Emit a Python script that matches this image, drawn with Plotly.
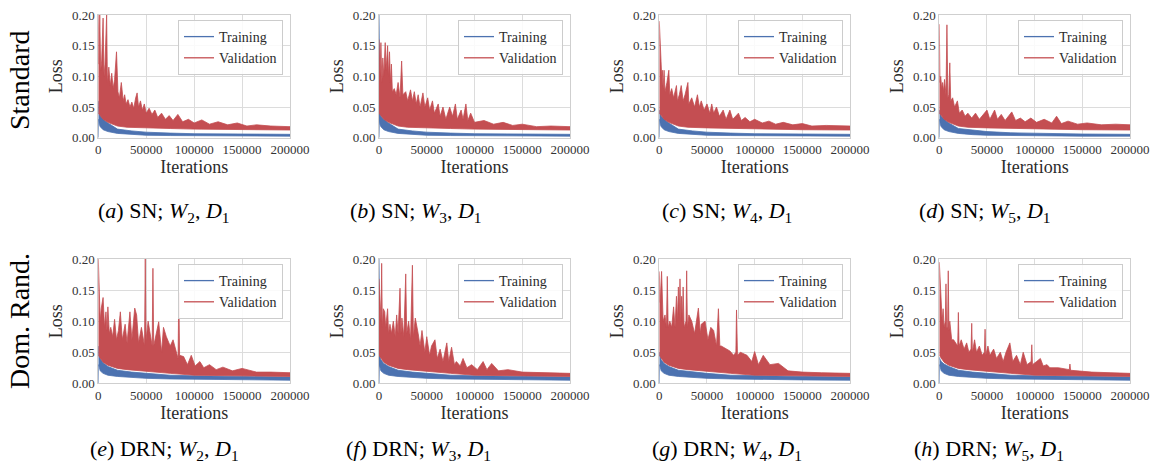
import plotly.graph_objects as go

# ---------------- data (x values in thousands of iterations) ----------------
X_TICKS = [0, 50000, 100000, 150000, 200000]
X_TICK_TEXT = ["0", "50000", "100000", "150000", "200000"]
Y_TICKS = [0.0, 0.05, 0.10, 0.15, 0.20]
Y_TICK_TEXT = ["0.00", "0.05", "0.10", "0.15", "0.20"]

PANEL_IDS = ["a", "b", "c", "d", "e", "f", "g", "h"]
PANEL_METHOD = ["SN", "SN", "SN", "SN", "DRN", "DRN", "DRN", "DRN"]
PANEL_W = [2, 3, 4, 5, 2, 3, 4, 5]
ROW_LABELS = ["Standard", "Dom. Rand."]
SERIES_NAMES = ["Training", "Validation"]

# training band (upper / lower edge)
TRAIN_X_K = [0, 0.3, 1, 2, 5, 10, 20, 35, 50, 75, 100, 150, 200]
A_TRAIN_HI = [0.06, 0.05, 0.042, 0.036, 0.03, 0.024, 0.014, 0.011, 0.009, 0.0075, 0.0065, 0.006, 0.0055]
B_TRAIN_HI = [0.20, 0.06, 0.04, 0.035, 0.03, 0.024, 0.014, 0.011, 0.009, 0.0075, 0.0065, 0.006, 0.0055]
C_TRAIN_HI = [0.045, 0.042, 0.04, 0.035, 0.03, 0.024, 0.014, 0.011, 0.009, 0.0075, 0.0065, 0.006, 0.0055]
D_TRAIN_HI = [0.045, 0.043, 0.04, 0.035, 0.03, 0.024, 0.015, 0.012, 0.01, 0.008, 0.007, 0.006, 0.0055]
ROW1_TRAIN_LO = [0.0, 0.03, 0.022, 0.018, 0.013, 0.010, 0.007, 0.005, 0.004, 0.0035, 0.003, 0.0025, 0.0025]
E_TRAIN_HI = [0.06, 0.05, 0.045, 0.04, 0.033, 0.027, 0.021, 0.018, 0.016, 0.013, 0.012, 0.011, 0.010]
F_TRAIN_HI = [0.20, 0.06, 0.042, 0.038, 0.032, 0.027, 0.021, 0.018, 0.016, 0.013, 0.012, 0.011, 0.010]
G_TRAIN_HI = [0.05, 0.048, 0.044, 0.038, 0.032, 0.027, 0.021, 0.018, 0.016, 0.013, 0.012, 0.011, 0.010]
H_TRAIN_HI = [0.042, 0.04, 0.038, 0.035, 0.031, 0.027, 0.021, 0.018, 0.016, 0.013, 0.012, 0.011, 0.010]
ROW2_TRAIN_LO = [0.0, 0.03, 0.025, 0.02, 0.016, 0.013, 0.011, 0.009, 0.008, 0.007, 0.006, 0.0055, 0.005]

# validation band: lower edge
VAL_LO_X_K = [0, 2, 5, 10, 20, 30, 50, 75, 100, 150, 200]
ROW1_VAL_LO = [0.04, 0.036, 0.03, 0.025, 0.019, 0.017, 0.016, 0.015, 0.014, 0.013, 0.0125]
ROW2_VAL_LO = [0.045, 0.04, 0.034, 0.029, 0.024, 0.022, 0.019, 0.016, 0.013, 0.0115, 0.011]

# validation band: upper envelope (spikes)
A_VAL_X_K = [0, 0.8, 1.5, 2.5, 3.5, 5, 6, 7, 8.7, 9.5, 11, 12.5, 14, 15.5, 17, 19, 20.5, 22, 24, 26,
             27.5, 29, 31, 33, 35, 37, 39, 40.5, 42, 44, 46, 48, 50, 53, 56, 59, 62, 66, 70, 74,
             78, 83, 88, 94, 100, 108, 116, 125, 135, 145, 155, 165, 180, 200]
A_VAL_HI = [0.20, 0.12, 0.20, 0.11, 0.125, 0.195, 0.10, 0.12, 0.20, 0.09, 0.115, 0.085, 0.105, 0.08, 0.095, 0.14, 0.075, 0.065, 0.09, 0.06,
            0.07, 0.055, 0.062, 0.05, 0.058, 0.048, 0.065, 0.073, 0.05, 0.06, 0.045, 0.055, 0.04, 0.048, 0.038, 0.045, 0.033, 0.04, 0.03, 0.036,
            0.028, 0.038, 0.026, 0.03, 0.024, 0.029, 0.022, 0.026, 0.021, 0.024, 0.019, 0.021, 0.019, 0.018]

B_VAL_X_K = [0, 1, 2, 3, 4, 5, 6.5, 7.5, 9, 10, 11, 12, 13, 14, 16, 18, 20, 22, 23.7, 25,
             28, 30, 33, 35, 37, 39, 41, 43, 46, 48, 51, 53, 56, 58, 62, 64, 67, 70, 74, 77,
             80, 82, 86, 88, 91, 93, 96, 100, 110, 120, 130, 140, 150, 165, 180, 200]
B_VAL_HI = [0.16, 0.10, 0.155, 0.09, 0.13, 0.10, 0.155, 0.11, 0.15, 0.10, 0.14, 0.09, 0.12, 0.075, 0.08, 0.07, 0.09, 0.065, 0.125, 0.07,
            0.075, 0.06, 0.078, 0.06, 0.075, 0.055, 0.07, 0.05, 0.073, 0.05, 0.065, 0.045, 0.06, 0.04, 0.055, 0.035, 0.05, 0.03, 0.05, 0.035,
            0.055, 0.03, 0.045, 0.03, 0.055, 0.028, 0.04, 0.025, 0.028, 0.022, 0.025, 0.02, 0.022, 0.018, 0.019, 0.018]

C_VAL_X_K = [0, 1, 2.5, 3.2, 4, 5, 6, 8, 10, 11, 13, 15, 18, 19, 21, 23, 25, 27, 30, 31,
             34, 37, 40, 42, 44, 47, 50, 53, 55, 57, 60, 63, 67, 70, 74, 77, 83, 86, 90, 95,
             100, 108, 115, 122, 130, 140, 150, 160, 175, 200]
C_VAL_HI = [0.19, 0.162, 0.10, 0.11, 0.08, 0.11, 0.075, 0.09, 0.11, 0.07, 0.08, 0.065, 0.085, 0.06, 0.07, 0.085, 0.06, 0.07, 0.09, 0.055,
            0.065, 0.05, 0.07, 0.05, 0.06, 0.045, 0.055, 0.04, 0.055, 0.04, 0.05, 0.035, 0.045, 0.03, 0.045, 0.03, 0.04, 0.028, 0.033, 0.026,
            0.03, 0.024, 0.027, 0.022, 0.025, 0.021, 0.023, 0.019, 0.02, 0.019]

D_VAL_X_K = [0, 0.7, 1.5, 2.5, 3.5, 4.5, 5.5, 7, 8, 9, 10, 11, 12, 14, 16, 19, 21, 24, 27, 30,
             34, 38, 42, 46, 50, 53, 56, 58, 61, 65, 69, 73, 76, 80, 85, 90, 96, 102, 110, 118,
             123, 128, 135, 145, 155, 170, 185, 200]
D_VAL_HI = [0.185, 0.09, 0.10, 0.08, 0.09, 0.075, 0.095, 0.07, 0.184, 0.065, 0.07, 0.122, 0.06, 0.065, 0.05, 0.06, 0.04, 0.045, 0.035, 0.04,
            0.032, 0.04, 0.03, 0.038, 0.045, 0.03, 0.038, 0.045, 0.03, 0.038, 0.028, 0.035, 0.042, 0.028, 0.032, 0.026, 0.032, 0.025, 0.03, 0.024,
            0.035, 0.023, 0.027, 0.022, 0.024, 0.021, 0.022, 0.021]

E_VAL_X_K = [0, 1, 2, 3, 5, 6.5, 8, 9, 10, 11.5, 13, 15, 17, 19, 21, 23, 25, 28, 30, 33,
             35, 38, 40, 42, 45, 48.2, 49, 49.8, 52, 56.2, 57, 57.8, 60, 63, 66, 68, 71, 75, 78, 83.2,
             84, 84.8, 89, 93, 97, 101, 106, 110, 116, 123, 130, 140, 150, 165, 180, 200]
E_VAL_HI = [0.20, 0.158, 0.10, 0.12, 0.138, 0.09, 0.115, 0.085, 0.123, 0.08, 0.09, 0.075, 0.103, 0.07, 0.085, 0.115, 0.07, 0.095, 0.065, 0.115,
            0.07, 0.121, 0.11, 0.065, 0.09, 0.06, 0.20, 0.07, 0.10, 0.06, 0.185, 0.06, 0.075, 0.099, 0.05, 0.09, 0.075, 0.06, 0.07, 0.04,
            0.146, 0.045, 0.043, 0.03, 0.045, 0.028, 0.035, 0.025, 0.03, 0.022, 0.026, 0.02, 0.024, 0.018, 0.018, 0.017]

F_VAL_X_K = [0, 1, 2.2, 2.8, 3.5, 4.5, 6, 7, 9, 10, 11.5, 13, 15, 17, 18.5, 20, 22, 23, 24, 26,
             28, 29, 31, 33, 35, 36, 38, 41, 43, 45, 48, 50, 53, 55, 58.6, 61, 64, 67, 71, 73,
             76, 79, 81, 85, 88, 92, 97, 103, 109, 113, 118, 125, 135, 150, 170, 200]
F_VAL_HI = [0.168, 0.12, 0.10, 0.193, 0.09, 0.12, 0.115, 0.09, 0.12, 0.08, 0.095, 0.08, 0.10, 0.075, 0.11, 0.08, 0.153, 0.08, 0.105, 0.075,
            0.176, 0.08, 0.10, 0.07, 0.19, 0.075, 0.105, 0.08, 0.06, 0.085, 0.05, 0.075, 0.045, 0.06, 0.07, 0.04, 0.055, 0.035, 0.065, 0.035,
            0.058, 0.03, 0.035, 0.028, 0.04, 0.025, 0.03, 0.022, 0.035, 0.022, 0.032, 0.02, 0.022, 0.018, 0.017, 0.016]

G_VAL_X_K = [0, 1, 2.4, 3.2, 4, 6, 7.5, 8.4, 9.3, 11, 13, 15, 16.5, 18, 19, 20, 21, 21.7, 22.5, 23.4,
             24.2, 25, 26, 28, 28.7, 29.5, 31, 34, 37, 41, 43, 44, 48, 51, 54, 57, 60, 62, 63.5, 65,
             70, 74, 78, 80.3, 81, 82, 85, 92, 97, 100, 104, 109, 116, 125, 135, 150, 170, 200]
G_VAL_HI = [0.18, 0.13, 0.18, 0.11, 0.10, 0.11, 0.09, 0.172, 0.09, 0.10, 0.09, 0.123, 0.09, 0.14, 0.10, 0.155, 0.11, 0.168, 0.10, 0.14,
            0.10, 0.155, 0.09, 0.10, 0.181, 0.09, 0.11, 0.10, 0.08, 0.121, 0.08, 0.095, 0.10, 0.07, 0.09, 0.085, 0.06, 0.12, 0.06, 0.06,
            0.055, 0.052, 0.045, 0.05, 0.118, 0.045, 0.05, 0.045, 0.035, 0.051, 0.03, 0.045, 0.03, 0.032, 0.02, 0.018, 0.017, 0.016]

H_VAL_X_K = [0, 1, 2, 3, 4, 5, 6.3, 7, 7.7, 8.7, 9.4, 10.1, 11, 13, 15, 17, 19.3, 20, 20.7, 23,
             26, 28.7, 31, 33.3, 34, 34.7, 37, 39, 42, 45, 47.3, 48, 48.7, 51, 53, 57, 60, 64, 67, 70,
             74, 77, 81, 85, 88, 92, 96.3, 97, 97.7, 102, 106, 109, 113, 116, 125, 136.3, 137, 137.7, 145, 160,
             180, 200]
H_VAL_HI = [0.195, 0.16, 0.12, 0.10, 0.12, 0.09, 0.10, 0.16, 0.09, 0.09, 0.181, 0.085, 0.10, 0.07, 0.07, 0.065, 0.06, 0.114, 0.06, 0.07,
            0.055, 0.065, 0.05, 0.055, 0.0965, 0.05, 0.07, 0.05, 0.06, 0.045, 0.05, 0.087, 0.045, 0.06, 0.045, 0.055, 0.04, 0.05, 0.035, 0.05,
            0.065, 0.035, 0.045, 0.03, 0.05, 0.03, 0.035, 0.062, 0.03, 0.035, 0.04, 0.028, 0.03, 0.025, 0.025, 0.022, 0.031, 0.021, 0.02, 0.018,
            0.017, 0.016]

TRAIN_HI = [A_TRAIN_HI, B_TRAIN_HI, C_TRAIN_HI, D_TRAIN_HI, E_TRAIN_HI, F_TRAIN_HI, G_TRAIN_HI, H_TRAIN_HI]
TRAIN_LO = [ROW1_TRAIN_LO] * 4 + [ROW2_TRAIN_LO] * 4
VAL_X = [A_VAL_X_K, B_VAL_X_K, C_VAL_X_K, D_VAL_X_K, E_VAL_X_K, F_VAL_X_K, G_VAL_X_K, H_VAL_X_K]
VAL_HI = [A_VAL_HI, B_VAL_HI, C_VAL_HI, D_VAL_HI, E_VAL_HI, F_VAL_HI, G_VAL_HI, H_VAL_HI]
VAL_LO = [ROW1_VAL_LO] * 4 + [ROW2_VAL_LO] * 4

# ---------------- styling / layout ----------------
W, H = 1154, 470
BLUE = "#4C72B0"
RED = "#C44E52"
FONT = "Liberation Serif"
TXT = "#2b2b2b"
COL_L = [98.3, 379, 659.3, 939.3]
COL_R = [290, 570, 850, 1130]
ROW_TB = [(15, 137.7), (259, 383.3)]
CAPTION_X = [164, 416, 727, 985, 164, 418, 727, 989]
CAPTION_Y = [212, 212, 212, 212, 450, 450, 450, 450]
ROW_LABEL_Y = [80, 321]


def k2it(xs):
    return [v * 1000 for v in xs]


fig = go.Figure()
layout = dict(
    width=W, height=H, margin=dict(l=0, r=0, t=0, b=0, autoexpand=False),
    paper_bgcolor="white", plot_bgcolor="white",
    font=dict(family=FONT, color=TXT),
    showlegend=True,
)
annotations = []

for i in range(8):
    row, col = divmod(i, 4)
    sfx = "" if i == 0 else str(i + 1)
    xa, ya = "x" + sfx, "y" + sfx
    leg = "legend" + sfx

    # training band
    tx = k2it(TRAIN_X_K)
    fig.add_trace(go.Scatter(
        x=tx + tx[::-1], y=TRAIN_HI[i] + TRAIN_LO[i][::-1],
        fill="toself", fillcolor=BLUE, mode="lines",
        line=dict(color=BLUE, width=0.8), showlegend=False, hoverinfo="skip",
        xaxis=xa, yaxis=ya))
    # validation band
    vx = k2it(VAL_X[i])
    lx = k2it(VAL_LO_X_K)
    fig.add_trace(go.Scatter(
        x=vx + lx[::-1], y=VAL_HI[i] + VAL_LO[i][::-1],
        fill="toself", fillcolor=RED, mode="lines",
        line=dict(color=RED, width=0.8), showlegend=False, hoverinfo="skip",
        xaxis=xa, yaxis=ya))
    # legend keys
    for name, c in zip(SERIES_NAMES, [BLUE, RED]):
        fig.add_trace(go.Scatter(
            x=[None], y=[None], mode="lines", name=name,
            line=dict(color=c, width=1.3), legend=leg, xaxis=xa, yaxis=ya))

    top, bot = ROW_TB[row]
    common = dict(
        tickfont=dict(family=FONT, size=13, color="#333333"),
        showgrid=True, gridcolor="#dcdcdc", gridwidth=1,
        showline=True, mirror=True, linecolor="#cfcfcf", linewidth=1,
        zeroline=False, ticks="", automargin=False,
    )
    layout["xaxis" + sfx] = dict(
        domain=[COL_L[col] / W, COL_R[col] / W], anchor=ya,
        range=[0, 200000], tickvals=X_TICKS, ticktext=X_TICK_TEXT,
        title=dict(text="Iterations", font=dict(family=FONT, size=18, color=TXT), standoff=3),
        **common,
    )
    layout["yaxis" + sfx] = dict(
        domain=[1 - bot / H, 1 - top / H], anchor=xa,
        range=[0, 0.2], tickvals=Y_TICKS, ticktext=Y_TICK_TEXT,
        title=dict(text="Loss", font=dict(family=FONT, size=18, color=TXT), standoff=4),
        **common,
    )
    layout[leg] = dict(
        x=(COL_R[col] - 7) / W, y=1 - (top + 5) / H, xanchor="right", yanchor="top",
        bgcolor="rgba(255,255,255,0.85)", bordercolor="#cccccc", borderwidth=1,
        font=dict(family=FONT, size=14, color=TXT), tracegroupgap=0,
    )

    cap = (f"(<i>{PANEL_IDS[i]}</i>) {PANEL_METHOD[i]}; "
           f"<i>W</i><sub>{PANEL_W[i]}</sub>, <i>D</i><sub>1</sub>")
    annotations.append(dict(
        text=cap, x=CAPTION_X[i] / W, y=1 - CAPTION_Y[i] / H, xref="paper", yref="paper",
        xanchor="center", yanchor="middle", showarrow=False,
        font=dict(family=FONT, size=22, color="black")))

for r, lab in enumerate(ROW_LABELS):
    annotations.append(dict(
        text=lab, x=19 / W, y=1 - ROW_LABEL_Y[r] / H, xref="paper", yref="paper",
        xanchor="center", yanchor="middle", textangle=-90, showarrow=False,
        font=dict(family=FONT, size=28, color="black")))

layout["annotations"] = annotations
fig.update_layout(**layout)
fig.write_html("out.html", config={"displayModeBar": False},
               post_script="document.body.style.margin='0';")
